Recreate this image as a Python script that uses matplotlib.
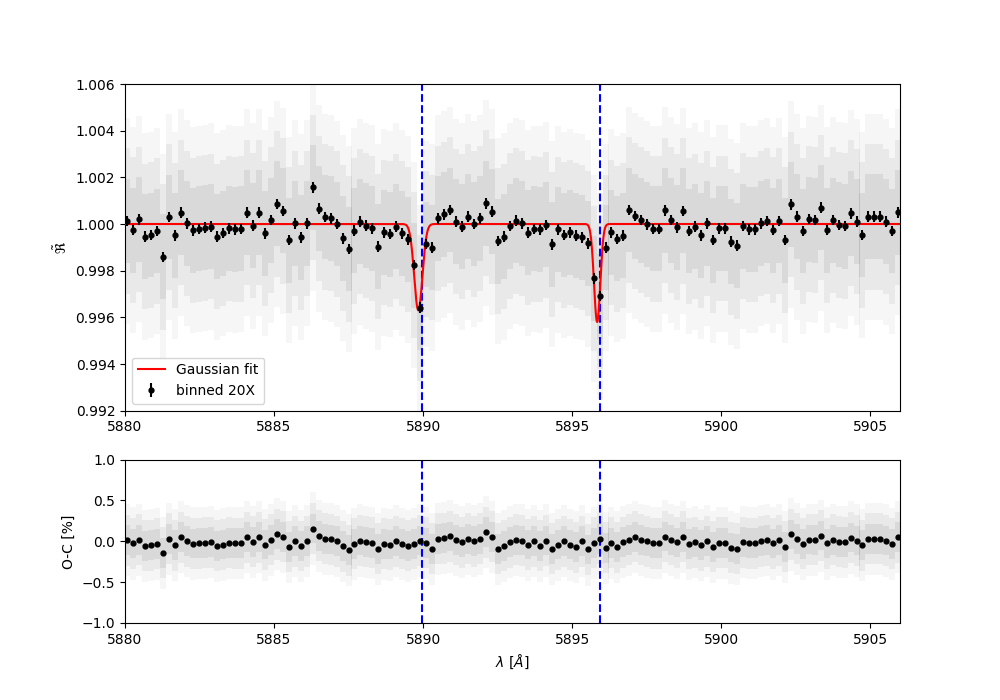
import numpy as np
import matplotlib
matplotlib.use("Agg")
import matplotlib.pyplot as plt

# ---- data ----
wave_start = 5880.08          # first bin centre [Angstrom]
wave_step = 0.2005            # bin width [Angstrom]
n_bins = 130

# binned transmission (offset from 1, in units of 1e-5)
binned_offset_1e5 = [
    13, -26, 20, -54, -47, -30, -141, 30, -49, 49,
    3, -27, -21, -16, -11, -54, -39, -19, -23, -21,
    49, -7, 49, -40, 17, 86, 56, -69, 3, -57,
    3, 157, 66, 30, 24, 0, -61, -107, -29, 10,
    -7, -19, -97, -36, -43, -11, -40, -66, -176, -359,
    -86, -101, 24, 41, 60, 10, -11, 31, 0, 24,
    89, 53, -73, -54, -9, 14, 3, -37, -21, -23,
    -4, -87, -23, -47, -36, -50, -57, -83, -233, -309,
    -101, -36, -64, -50, 60, 34, 17, -1, -21, -21,
    58, 17, -14, 56, -30, -11, -49, 3, -69, -19,
    -19, -76, -93, -9, -23, -23, 3, 13, -26, 13,
    -69, 84, 31, -30, 21, 17, 70, -26, 17, -4,
    -9, 46, 10, -47, 31, 31, 31, 10, -30, 50,
]

# binned O-C residuals [%]
oc_pct = [
    0.013, -0.026, 0.020, -0.054, -0.047, -0.030, -0.141, 0.030, -0.049, 0.049,
    0.003, -0.027, -0.021, -0.016, -0.011, -0.054, -0.039, -0.019, -0.023, -0.021,
    0.049, -0.007, 0.049, -0.040, 0.017, 0.086, 0.056, -0.069, 0.003, -0.057,
    0.003, 0.157, 0.066, 0.030, 0.024, 0.000, -0.061, -0.107, -0.029, 0.010,
    -0.007, -0.019, -0.090, -0.030, -0.040, 0.000, -0.030, -0.055, -0.030, 0.010,
    -0.020, -0.090, 0.030, 0.040, 0.060, 0.020, -0.010, 0.030, 0.000, 0.030,
    0.110, 0.055, -0.090, -0.055, -0.010, 0.020, 0.010, -0.040, 0.000, -0.055,
    0.010, -0.090, -0.040, 0.000, -0.040, -0.070, 0.000, -0.100, -0.020, 0.030,
    -0.080, -0.020, -0.070, -0.010, 0.020, 0.055, 0.017, -0.001, -0.021, -0.021,
    0.058, 0.017, -0.014, 0.056, -0.030, -0.011, -0.049, 0.003, -0.069, -0.019,
    -0.019, -0.076, -0.093, -0.009, -0.023, -0.023, 0.003, 0.013, -0.026, 0.013,
    -0.069, 0.084, 0.031, -0.030, 0.021, 0.017, 0.070, -0.026, 0.017, -0.004,
    -0.009, 0.046, 0.010, -0.047, 0.031, 0.031, 0.031, 0.010, -0.030, 0.050,
]

binned_err = 0.00023          # error of binned points
unbinned_err = 0.0026         # typical error of the unbinned spectrum

# Gaussian fit parameters (two sodium lines)
line_centers = [5889.84, 5895.84]
line_depths = [0.0037, 0.0042]
line_sigmas = [0.138, 0.105]

# reference line positions (Na D2, D1)
na_lines = [5889.95, 5895.92]

# ---- derived ----
wave = wave_start + wave_step * np.arange(n_bins)
flux = 1.0 + np.array(binned_offset_1e5) * 1e-5
oc = np.array(oc_pct)

wfine = np.linspace(5880, 5906, 3000)
model = np.ones_like(wfine)
for c, d, s in zip(line_centers, line_depths, line_sigmas):
    model -= d * np.exp(-0.5 * ((wfine - c) / s) ** 2)

fig, (ax1, ax2) = plt.subplots(2, 1, figsize=(10, 7), dpi=100,
                               gridspec_kw={'height_ratios': [2, 1]})

# unbinned haze (drawn from binned values with unbinned errors)
for k, a in [(1.7, 0.07), (1.2, 0.11), (0.7, 0.15)]:
    ax1.errorbar(wave, flux, yerr=k * unbinned_err, fmt='none',
                 ecolor='gray', elinewidth=4.3, alpha=a, zorder=1)
    ax2.errorbar(wave, oc, yerr=k * unbinned_err * 100, fmt='none',
                 ecolor='gray', elinewidth=4.3, alpha=a, zorder=1)

ax1.plot(wfine, model, color='r', lw=1.5, label='Gaussian fit', zorder=3)
ax1.errorbar(wave, flux, yerr=binned_err, fmt='o', color='k', ms=3.5,
             elinewidth=1.5, label='binned 20X', zorder=4)
for wl in na_lines:
    ax1.axvline(wl, color='b', ls='--', lw=1.5, zorder=2)
    ax2.axvline(wl, color='b', ls='--', lw=1.5, zorder=2)

ax1.set_xlim(5880, 5906)
ax1.set_ylim(0.992, 1.006)
ax1.set_ylabel(r'$\tilde{\Re}$')
ax1.legend(loc='lower left')

ax2.errorbar(wave, oc, yerr=binned_err * 100, fmt='o', color='k', ms=3.5,
             elinewidth=1.5, zorder=4)
ax2.set_xlim(5880, 5906)
ax2.set_ylim(-1, 1)
ax2.set_yticks([-1.0, -0.5, 0.0, 0.5, 1.0])
ax2.set_ylabel('O-C [%]')
ax2.set_xlabel(r'$\lambda$ [$\AA$]')

fig.savefig('out.png', dpi=100)
